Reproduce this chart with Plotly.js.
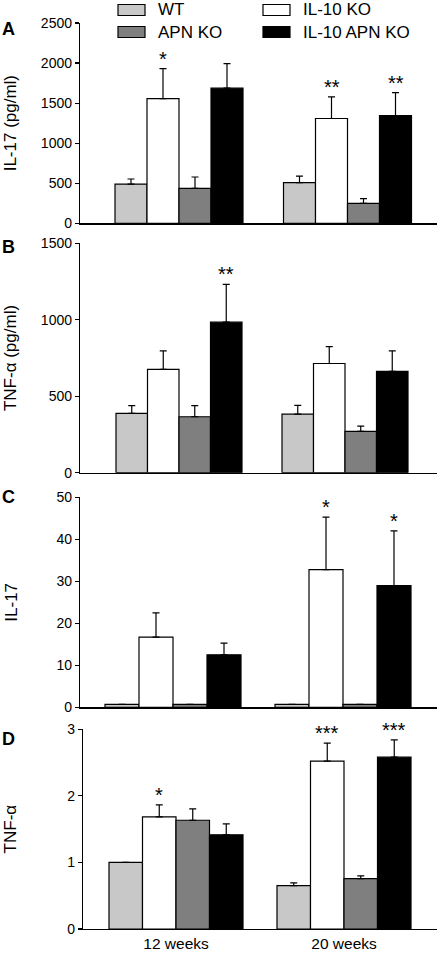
<!DOCTYPE html>
<html>
<head>
<meta charset="utf-8">
<script src="https://cdn.plot.ly/plotly-3.0.1.min.js"></script>
<style>
  html, body { margin: 0; padding: 0; background: #fff; }
  #chart { width: 438px; height: 954px; }
</style>
</head>
<body>
<div id="chart"></div>
<script>
// ---------------- DATA ----------------
const categories = ['12 weeks', '20 weeks'];
const groups = ['WT', 'IL-10 KO', 'APN KO', 'IL-10 APN KO'];
const groupColors = ['#c8c8c8', '#ffffff', '#7f7f7f', '#000000'];

// Panel A: IL-17 (pg/ml)   rows follow `groups`, columns follow `categories`
const il17Serum    = [[490, 507], [1557, 1308], [437, 249], [1686, 1345]];
const il17SerumErr = [[63, 83], [374, 270], [141, 58], [307, 287]];
const il17SerumSig = [['', ''], ['*', '**'], ['', ''], ['', '**']];

// Panel B: TNF-α (pg/ml)
const tnfSerum    = [[388, 383], [675, 714], [366, 270], [984, 662]];
const tnfSerumErr = [[50, 57], [122, 111], [72, 35], [248, 135]];
const tnfSerumSig = [['', ''], ['', ''], ['', ''], ['**', '']];

// Panel C: IL-17 (relative)
const il17Rel    = [[0.7, 0.7], [16.7, 32.8], [0.7, 0.7], [12.5, 29.0]];
const il17RelErr = [[0, 0], [5.8, 12.5], [0, 0], [2.8, 13.0]];
const il17RelSig = [['', ''], ['', '*'], ['', ''], ['', '*']];

// Panel D: TNF-α (relative)
const tnfRel    = [[1.0, 0.653], [1.684, 2.521], [1.634, 0.757], [1.415, 2.581]];
const tnfRelErr = [[0, 0.04], [0.18, 0.27], [0.17, 0.04], [0.165, 0.26]];
const tnfRelSig = [['', ''], ['*', '***'], ['', ''], ['', '***']];

// ---------------- LAYOUT CONFIG ----------------
const W = 438, H = 954;
const FONT = 'Arial, "Liberation Sans", Helvetica, sans-serif';

const panels = [
  { letter: 'A', title: 'IL-17 (pg/ml)', vals: il17Serum, errs: il17SerumErr, sig: il17SerumSig,
    ymax: 2500, dtick: 500, px: [80, 437], py: [23, 223.3], cx: [179, 347.5], gw: 128, standoff: 19, letterY: 29 },
  { letter: 'B', title: 'TNF-α (pg/ml)', vals: tnfSerum, errs: tnfSerumErr, sig: tnfSerumSig,
    ymax: 1500, dtick: 500, px: [80, 437], py: [243.3, 472.7], cx: [179, 345], gw: 126, standoff: 19, letterY: 247 },
  { letter: 'C', title: 'IL-17', vals: il17Rel, errs: il17RelErr, sig: il17RelSig,
    ymax: 50, dtick: 10, px: [80, 437], py: [497.3, 707.3], cx: [173, 343], gw: 136, standoff: 34, letterY: 497 },
  { letter: 'D', title: 'TNF-α', vals: tnfRel, errs: tnfRelErr, sig: tnfRelSig,
    ymax: 3, dtick: 1, px: [83, 437], py: [729.3, 929], cx: [176, 344], gw: 134, standoff: 46, letterY: 739 }
];

const traces = [];
const layout = {
  width: W, height: H,
  margin: { l: 0, r: 0, t: 0, b: 0 },
  paper_bgcolor: '#fff', plot_bgcolor: 'rgba(0,0,0,0)',
  showlegend: false,
  barmode: 'group',
  font: { family: FONT, color: '#000' },
  annotations: [], shapes: []
};

panels.forEach((p, k) => {
  const n = k + 1;
  const xa = 'x' + (n === 1 ? '' : n), ya = 'y' + (n === 1 ? '' : n);
  const unit = p.cx[1] - p.cx[0];
  const xRange = [-(p.cx[0] - p.px[0]) / unit, 1 + (p.px[1] - p.cx[1]) / unit];
  const bw = p.gw / 4 / unit;
  const start = -p.gw / 2 / unit;

  groups.forEach((g, i) => {
    const offset = start + i * bw;
    traces.push({
      type: 'bar', name: g, x: categories, y: p.vals[i],
      xaxis: xa, yaxis: ya, offset: offset, width: bw,
      marker: { color: groupColors[i], line: { color: '#000', width: 1.2 } },
      error_y: {
        type: 'data', symmetric: false, array: p.errs[i],
        arrayminus: p.errs[i].map(() => 0), color: '#000', thickness: 1.2, width: 3.5,
        visible: true
      },
      showlegend: false, hoverinfo: 'skip'
    });
    p.sig[i].forEach((s, j) => {
      if (!s) return;
      layout.annotations.push({
        xref: xa, yref: ya, x: j + offset + bw / 2, y: p.vals[i][j] + p.errs[i][j],
        text: s, showarrow: false, xanchor: 'center', yanchor: 'bottom', yshift: -3,
        font: { family: FONT, size: 20, color: '#000' }
      });
    });
  });

  layout['xaxis' + (n === 1 ? '' : n)] = {
    domain: [p.px[0] / W, p.px[1] / W], anchor: ya,
    type: 'category', categoryorder: 'array', categoryarray: categories,
    range: xRange, showline: true, linecolor: '#000', linewidth: 1.2,
    ticks: '', showgrid: false, zeroline: false,
    showticklabels: n === 4, tickfont: { family: FONT, size: 15.5, color: '#000' },
    fixedrange: true, automargin: false
  };
  layout['yaxis' + (n === 1 ? '' : n)] = {
    domain: [1 - p.py[1] / H, 1 - p.py[0] / H], anchor: xa,
    range: [0, p.ymax], tick0: 0, dtick: p.dtick,
    showline: true, linecolor: '#000', linewidth: 1.2,
    ticks: 'outside', ticklen: 4, tickwidth: 1.2, tickcolor: '#000',
    showgrid: false, zeroline: false,
    tickfont: { family: FONT, size: 14, color: '#000' },
    title: { text: p.title, font: { family: FONT, size: 17, color: '#000' }, standoff: p.standoff },
    fixedrange: true, automargin: false
  };
  layout.annotations.push({
    xref: 'paper', yref: 'paper', x: 8 / W, y: 1 - p.letterY / H,
    text: '<b>' + p.letter + '</b>', showarrow: false, xanchor: 'center', yanchor: 'middle',
    font: { family: FONT, size: 18, color: '#000' }
  });
});

// Legend (two columns × two rows) built from groups / groupColors
const legendCols = [118, 263];
const legendRows = [10, 32];
groups.forEach((g, i) => {
  const col = i % 2, row = Math.floor(i / 2);
  const x0 = legendCols[col], yc = legendRows[row];
  layout.shapes.push({
    type: 'rect', xref: 'paper', yref: 'paper',
    x0: x0 / W, x1: (x0 + 27) / W, y0: 1 - (yc + 5.5) / H, y1: 1 - (yc - 5.5) / H,
    fillcolor: groupColors[i], line: { color: '#000', width: 1.2 }
  });
  layout.annotations.push({
    xref: 'paper', yref: 'paper', x: (x0 + 38) / W, y: 1 - yc / H,
    text: g, showarrow: false, xanchor: 'left', yanchor: 'middle',
    font: { family: FONT, size: 17, color: '#000' }
  });
});

Plotly.newPlot('chart', traces, layout, { staticPlot: true, displayModeBar: false });
</script>
</body>
</html>
